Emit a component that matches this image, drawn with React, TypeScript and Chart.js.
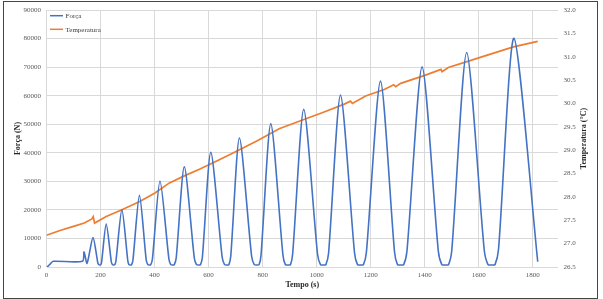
import { useEffect, useRef } from "react";
import { Chart, registerables } from "chart.js";

Chart.register(...registerables);

// Força (N) over time: pre-load plateau, then cycles with pointed peaks
// and rounded valleys (each valley traced by five points)
const forceTime = [
  0, 5, 15, 25, 133, 139, 150, 172,
  190, 193, 197, 201, 204, 221,
  240, 244, 248, 253, 257, 279,
  301, 305, 310, 315, 320, 344,
  369, 375, 380, 386, 392, 420,
  453, 460, 467, 473, 480, 510,
  547, 555, 563, 570, 577, 608,
  650, 659, 668, 675, 682, 714,
  759, 769, 779, 787, 794, 830,
  875, 884, 894, 903, 911, 952,
  1003, 1014, 1025, 1034, 1044, 1088,
  1140, 1151, 1162, 1173, 1184, 1236,
  1288, 1299, 1310, 1322, 1334, 1390,
  1450, 1463, 1476, 1488, 1500, 1555,
  1620, 1634, 1648, 1660, 1673, 1730,
  1818,
];
const forceValue = [
  0, 200, 1200, 2000, 2000, 5300, 1300, 10300,
  1400, 850, 700, 850, 1750, 15000,
  1750, 850, 700, 850, 2100, 20100,
  2100, 850, 700, 850, 2450, 25100,
  2450, 850, 700, 850, 2800, 30100,
  2800, 850, 700, 850, 3150, 35100,
  3150, 850, 700, 850, 3500, 40200,
  3500, 850, 700, 850, 3850, 45200,
  3850, 850, 700, 850, 4200, 50200,
  4200, 850, 700, 850, 4550, 55200,
  4550, 850, 700, 850, 4900, 60200,
  4900, 850, 700, 850, 5250, 65100,
  5250, 850, 700, 850, 5600, 70100,
  5600, 850, 700, 850, 5950, 75100,
  5950, 850, 700, 850, 6300, 80100,
  1900,
];

// Temperatura (°C) over time
const tempTime = [
  0, 50, 100, 140, 168, 173, 178, 221, 277, 345, 400, 455, 510, 566, 630, 694,
  780, 861, 940, 1020, 1100, 1125, 1132, 1181, 1250, 1285, 1292, 1311, 1400,
  1460, 1464, 1487, 1553, 1640, 1728, 1818,
];
const tempValue = [
  27.18, 27.28, 27.37, 27.44, 27.53, 27.58, 27.44, 27.58, 27.72, 27.9, 28.08,
  28.3, 28.45, 28.59, 28.77, 28.95, 29.2, 29.46, 29.63, 29.8, 29.98, 30.05, 30.0,
  30.16, 30.3, 30.4, 30.36, 30.43, 30.6, 30.73, 30.68, 30.77, 30.89, 31.05,
  31.21, 31.33,
];

const seriesLabels = ["Força", "Temperatura"];
const xTitle = "Tempo (s)";
const yTitle = "Força (N)";
const y1Title = "Temperatura (°C)";

const BLUE = "#4472C4";
const ORANGE = "#ED7D31";
const GRID = "#D9D9D9";
const TICK = "#595959";
const SERIF = "'Liberation Serif', 'Times New Roman', serif";

// Legend stacked in the top-left corner of the plot area
const cornerLegend = {
  id: "cornerLegend",
  afterDraw(chart: any) {
    const { ctx, chartArea } = chart;
    ctx.save();
    ctx.font = `7px ${SERIF}`;
    ctx.textBaseline = "middle";
    ctx.textAlign = "left";
    chart.data.datasets.forEach((ds: any, i: number) => {
      const y = chartArea.top + 5.7 + i * 13.6;
      const x = chartArea.left + 3.5;
      ctx.strokeStyle = ds.borderColor;
      ctx.lineWidth = 1.5;
      ctx.beginPath();
      ctx.moveTo(x, y);
      ctx.lineTo(x + 13, y);
      ctx.stroke();
      ctx.fillStyle = "#404040";
      ctx.fillText(ds.label, x + 15.5, y + 0.5);
    });
    ctx.restore();
  },
};

// Right axis title, reading bottom to top like the left one
const rightTitle = {
  id: "rightTitle",
  afterDraw(chart: any) {
    const { ctx, chartArea } = chart;
    const cy = (chartArea.top + chartArea.bottom) / 2;
    ctx.save();
    ctx.translate(584, cy);
    ctx.rotate(-Math.PI / 2);
    ctx.font = `bold 8px ${SERIF}`;
    ctx.fillStyle = "#262626";
    ctx.textAlign = "center";
    ctx.textBaseline = "middle";
    ctx.fillText(y1Title, 0, 0);
    ctx.restore();
  },
};

export default function App() {
  const ref = useRef<HTMLCanvasElement | null>(null);

  useEffect(() => {
    if (!ref.current) return;
    const chart = new Chart(ref.current, {
      type: "line",
      data: {
        datasets: [
          {
            label: seriesLabels[0],
            data: forceTime.map((t, i) => ({ x: t, y: forceValue[i] })),
            borderColor: BLUE,
            backgroundColor: BLUE,
            borderWidth: 1.6,
            pointRadius: 0,
            tension: 0.25,
            yAxisID: "y",
          },
          {
            label: seriesLabels[1],
            data: tempTime.map((t, i) => ({ x: t, y: tempValue[i] })),
            borderColor: ORANGE,
            backgroundColor: ORANGE,
            borderWidth: 1.7,
            pointRadius: 0,
            tension: 0,
            yAxisID: "y1",
          },
        ],
      },
      options: {
        responsive: false,
        animation: false,
        layout: { padding: { top: 10, left: 0, right: 0, bottom: 0 } },
        plugins: {
          legend: { display: false },
          tooltip: { enabled: false },
        },
        scales: {
          x: {
            type: "linear",
            min: 0,
            max: 1893,
            afterFit: (s: any) => {
              s.height = 32;
            },
            afterBuildTicks: (s: any) => {
              s.ticks = s.ticks.filter((t: any) => t.value % 200 === 0);
            },
            ticks: {
              stepSize: 200,
              color: TICK,
              padding: 4,
              maxRotation: 0,
              font: { family: SERIF, size: 7 },
              callback: (v: any) => String(v),
            },
            grid: { color: GRID, lineWidth: 1, drawTicks: false },
            border: { display: false },
            title: {
              display: true,
              text: xTitle,
              color: "#262626",
              padding: { top: 0, bottom: 9 },
              font: { family: SERIF, size: 8, weight: "bold" },
            },
          },
          y: {
            type: "linear",
            position: "left",
            min: 0,
            max: 90000,
            afterFit: (s: any) => {
              s.width = 46.5;
            },
            ticks: {
              stepSize: 10000,
              color: TICK,
              padding: 5.5,
              font: { family: SERIF, size: 7 },
              callback: (v: any) => String(v),
            },
            grid: { color: GRID, lineWidth: 1, drawTicks: false },
            border: { display: false },
            title: {
              display: true,
              text: yTitle,
              color: "#262626",
              padding: { top: 13, bottom: 0 },
              font: { family: SERIF, size: 8, weight: "bold" },
            },
          },
          y1: {
            type: "linear",
            position: "right",
            min: 26.5,
            max: 32,
            afterFit: (s: any) => {
              s.width = 45;
            },
            ticks: {
              stepSize: 0.5,
              color: TICK,
              padding: 5.5,
              font: { family: SERIF, size: 7 },
              callback: (v: any) => Number(v).toFixed(1),
            },
            grid: { drawOnChartArea: false, drawTicks: false },
            border: { display: false },
          },
        },
      },
      plugins: [cornerLegend, rightTitle],
    });
    return () => chart.destroy();
  }, []);

  return (
    <div
      style={{
        position: "fixed",
        left: 0,
        top: 0,
        width: 603,
        height: 299,
        background: "#fff",
      }}
    >
      <canvas
        ref={ref}
        width={603}
        height={299}
        style={{ position: "absolute", left: 0, top: 0, width: 603, height: 299 }}
      />
      <div
        style={{
          position: "absolute",
          left: 3,
          top: 1,
          width: 595,
          height: 298,
          boxSizing: "border-box",
          border: "1.5px solid #454545",
          pointerEvents: "none",
        }}
      />
    </div>
  );
}
